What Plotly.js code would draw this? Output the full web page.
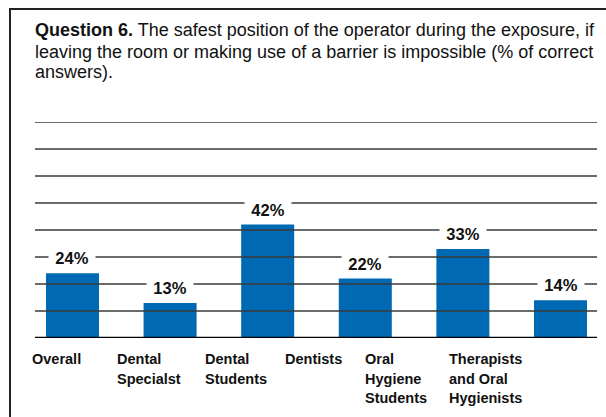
<!DOCTYPE html>
<html>
<head>
<meta charset="utf-8">
<script src="https://cdn.plot.ly/plotly-3.0.1.min.js"></script>
<style>
html,body{margin:0;padding:0;background:#fff;}
#chart{width:606px;height:417px;}
</style>
</head>
<body>
<div id="chart"></div>
<script>
// ---- data ----
const categories = ["Overall", "Dental Specialist", "Dental Students", "Dentists", "Oral Hygiene Students", "Therapists and Oral Hygienists"];
const categoryLabels = ["Overall", "Dental<br>Specialst", "Dental<br>Students", "Dentists", "Oral<br>Hygiene<br>Students", "Therapists<br>and Oral<br>Hygienists"];
const values = [24, 13, 42, 22, 33, 14];
const gridValues = [10, 20, 30, 40, 50, 60, 70, 80];
const titleLines = [
  "<b>Question 6.</b> The safest position of the operator during the exposure, if",
  "leaving the room or making use of a barrier is impossible (% of correct",
  "answers)."
];

// ---- layout helpers ----
const W = 606, H = 417;
const M = {l: 35, r: 9, t: 122, b: 79};
const pw = W - M.l - M.r, ph = H - M.t - M.b;
const px2x = p => (p - M.l) / pw;
const py2y = p => (H - M.b - p) / ph;
const labelLeftPx = [30, 115, 203, 283, 363, 447];
const labelLineCenterPx = [359, 378.5, 398];
const titleLineCenterPx = [30.5, 51.5, 72];

const shapes = [];
gridValues.forEach(v => {
  shapes.push({type: 'line', xref: 'paper', yref: 'y', x0: 0, x1: 1, y0: v, y1: v,
    line: {color: '#3a3a3a', width: 1.5}, layer: 'above'});
});
shapes.push({type: 'line', xref: 'paper', yref: 'y', x0: 0, x1: 1, y0: 0, y1: 0,
  line: {color: '#000', width: 2.5}, layer: 'above'});
// outer frame
shapes.push({type: 'rect', xref: 'paper', yref: 'paper',
  x0: px2x(10), x1: px2x(640), y0: py2y(9), y1: py2y(460),
  line: {color: '#222', width: 2}, layer: 'above'});

const annotations = [];
values.forEach((v, i) => {
  annotations.push({x: categories[i], y: v, xref: 'x', yref: 'y', text: v + '%',
    showarrow: false, yanchor: 'middle', xanchor: 'center', yshift: 15,
    bgcolor: '#fff', width: 46, height: 18, borderpad: 0,
    font: {family: 'Liberation Sans, Arial, sans-serif', size: 16.5, color: '#111', weight: 'bold'}});
});
categoryLabels.forEach((t, i) => {
  t.split('<br>').forEach((line, j) => {
    annotations.push({x: px2x(labelLeftPx[i]), y: py2y(labelLineCenterPx[j]), xref: 'paper', yref: 'paper',
      text: '<b>' + line + '</b>', showarrow: false, xanchor: 'left', yanchor: 'middle', align: 'left',
      font: {family: 'Liberation Sans, Arial, sans-serif', size: 14.5, color: '#111'}});
  });
});
titleLines.forEach((line, j) => {
  annotations.push({x: px2x(33), y: py2y(titleLineCenterPx[j]), xref: 'paper', yref: 'paper', text: line,
    showarrow: false, xanchor: 'left', yanchor: 'middle', align: 'left',
    font: {family: 'Liberation Sans, Arial, sans-serif', size: 18, color: '#111'}});
});

const trace = {
  type: 'bar', x: categories, y: values,
  marker: {color: '#0069b4'},
  hoverinfo: 'none'
};

const layout = {
  width: W, height: H,
  margin: M,
  paper_bgcolor: '#fff', plot_bgcolor: '#fff',
  bargap: 0.457,
  showlegend: false,
  xaxis: {range: [-0.384, 5.374], showticklabels: false, showgrid: false, zeroline: false, showline: false, ticks: ''},
  yaxis: {range: [0, 80], showticklabels: false, showgrid: false, zeroline: false, showline: false, ticks: ''},
  shapes: shapes,
  annotations: annotations
};

Plotly.newPlot('chart', [trace], layout, {displayModeBar: false, staticPlot: true});
</script>
</body>
</html>
